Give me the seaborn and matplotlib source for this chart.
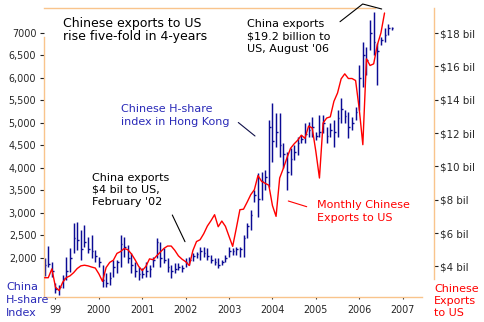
import numpy as np
import pandas as pd
import matplotlib
matplotlib.use("Agg")
import matplotlib.pyplot as plt
import seaborn as sns
from matplotlib.lines import Line2D

sns.set_style("white")
plt.rcParams['font.family'] = ['DejaVu Sans']

# ---------------- data ----------------
exports_start = "1998-10"
exports_bil = [3.32, 3.32, 3.85, 2.75, 2.55, 3.05, 3.33, 3.43, 3.62, 3.87,
               4.03, 4.07, 4.03, 3.96, 3.90, 3.55, 3.10, 3.93, 4.24, 4.37,
               4.78, 4.89, 5.07, 5.00, 4.75, 4.40, 4.00, 3.75, 4.00, 4.45,
               4.40, 4.64, 4.86, 5.08, 5.22, 5.22, 4.96, 4.63, 4.43, 4.28,
               4.05, 4.95, 5.49, 5.60, 5.96, 6.42, 6.74, 7.10, 6.38, 6.72,
               6.40, 5.80, 5.20, 6.28, 7.40, 7.43, 7.85, 8.30, 8.60, 9.45,
               9.10, 8.98, 8.87, 7.65, 7.00, 9.30, 9.87, 10.50, 11.08, 11.35,
               11.57, 11.87, 11.68, 12.42, 12.30, 10.90, 9.30, 12.60, 12.90, 12.97,
               13.90, 14.40, 15.25, 15.55, 15.27, 15.27, 15.15, 13.45, 11.30, 16.45,
               16.05, 16.15, 17.28, 18.00, 19.20]

hshare_start = "1998-10"
hshare_high = [2000, 2270, 1918, 1444, 1400, 1622, 2030, 2222, 2778, 2800,
               2622, 2733, 2474, 2511, 2178, 2030, 1844, 1660, 1696, 1955,
               1955, 2511, 2474, 2289, 2104, 1918, 1808, 1770, 1918, 1844,
               2030, 2444, 2363, 2215, 2000, 1844, 1882, 1882, 1844, 1993,
               2030, 2100, 2140, 2252, 2252, 2215, 2067, 2000, 2000, 1955,
               2067, 2252, 2215, 2252, 2252, 2511, 2778, 3067, 3511, 3889,
               3918, 3955, 5067, 5437, 5222, 5222, 4556, 4363, 4444, 4511,
               4696, 4733, 5000, 5030, 5141, 4807, 5178, 5178, 4918, 4993,
               5067, 5289, 5548, 5289, 5252, 5141, 5363, 6289, 6807, 6696,
               7289, 7474, 6770, 6918, 7111, 7200, 7140]
hshare_low = [1600, 1800, 1585, 1229, 1180, 1333, 1511, 1696, 2111, 2170,
              1955, 2250, 2104, 2000, 1918, 1808, 1363, 1363, 1400, 1585,
              1660, 1808, 2030, 1882, 1660, 1585, 1511, 1548, 1585, 1585,
              1808, 2000, 1808, 1882, 1696, 1555, 1660, 1733, 1696, 1808,
              1844, 1930, 2000, 1955, 2030, 1955, 1882, 1844, 1778, 1844,
              1918, 2030, 2067, 2067, 2030, 2030, 2444, 2622, 3252, 2918,
              3289, 3511, 3585, 4140, 4474, 4252, 4000, 3511, 3844, 4178,
              4289, 4548, 4556, 4696, 4696, 4622, 4696, 4770, 4548, 4696,
              4474, 4696, 4993, 4993, 4659, 4844, 5067, 5289, 5807, 6067,
              6622, 6511, 5844, 6733, 6807, 6955, 7070]
hshare_close = [1850, 1870, 1700, 1300, 1350, 1550, 1700, 2000, 2450, 2400,
                2200, 2350, 2200, 2150, 2050, 1900, 1500, 1450, 1550, 1800,
                1900, 2300, 2250, 2000, 1850, 1700, 1650, 1650, 1700, 1750,
                1950, 2350, 2000, 1950, 1800, 1700, 1750, 1800, 1780, 1900,
                1950, 2050, 2080, 2150, 2100, 2050, 1950, 1900, 1850, 1900,
                2000, 2150, 2150, 2200, 2200, 2450, 2700, 2950, 3400, 3300,
                3700, 3800, 4900, 4600, 4800, 4500, 4300, 3900, 4200, 4350,
                4550, 4650, 4750, 4850, 4900, 4700, 4800, 5000, 4700, 4850,
                4800, 5100, 5300, 5150, 4900, 5000, 5250, 6000, 6500, 6400,
                7000, 6800, 6600, 6850, 6950, 7100, 7100]

year_ticks = [1999, 2000, 2001, 2002, 2003, 2004, 2005, 2006, 2007]
year_labels = ["99", "2000", "2001", "2002", "2003", "2004", "2005", "2006", "2007"]
left_ticks = [2000, 2500, 3000, 3500, 4000, 4500, 5000, 5500, 6000, 6500, 7000]
left_labels = ["2,000", "2,500", "3,000", "3,500", "4,000", "4,500", "5,000",
               "5,500", "6,000", "6,500", "7000"]
right_ticks = [4, 6, 8, 10, 12, 14, 16, 18]
right_labels = ["$4 bil", "$6 bil", "$8 bil", "$10 bil", "$12 bil", "$14 bil",
                "$16 bil", "$18 bil"]


def decimal_years(start, n):
    p = pd.period_range(start, periods=n, freq="M")
    return np.asarray(p.year + (p.month - 1) / 12.0, dtype=float)


t_exp = decimal_years(exports_start, len(exports_bil))
t_hs = decimal_years(hshare_start, len(hshare_high))
exp_df = pd.DataFrame({"t": t_exp, "bil": exports_bil})

# ---------------- styling ----------------
W, H = 484, 322
BLUE = "#0b0b94"
TXT_BLUE = "#2a2ab8"
RED = "#ff0000"
ORANGE = "#f9c48c"

fig = plt.figure(figsize=(W / 100, H / 100), dpi=100)
fig.patch.set_facecolor("white")
ax = fig.add_axes([44 / W, 1 - 297 / H, 390 / W, 289 / H])
ax.set_facecolor("white")
ax.set_xlim(1998.735, 2007.7235)
ax.set_ylim(1133, 7555)

# H-share OHLC-style bars
ax.vlines(t_hs, hshare_low, hshare_high, color=BLUE, lw=1.05, zorder=2)
ax.hlines(hshare_close, t_hs, t_hs + 0.04, color=BLUE, lw=1.0, zorder=2)

ax2 = ax.twinx()
ax2.set_ylim(2.163, 19.5)
sns.lineplot(data=exp_df, x="t", y="bil", ax=ax2, color=RED, lw=1.0, zorder=3)
ax2.set_xlabel("")
ax2.set_ylabel("")
ax.set_xlabel("")
ax.set_ylabel("")

# ticks
ax.set_xticks(year_ticks)
ax.set_xticklabels(year_labels)
ax.set_yticks(left_ticks)
ax.set_yticklabels(left_labels)
ax2.set_yticks(right_ticks)
ax2.set_yticklabels(right_labels)
ax.tick_params(axis="x", bottom=True, direction="out", length=1.5, width=0.8,
               color="#333333", pad=4.3, labelsize=6.9)
ax.tick_params(axis="y", left=True, direction="out", length=2.9, width=0.8,
               color="#222222", pad=2.6, labelsize=6.9)
ax2.tick_params(axis="y", right=True, direction="out", length=2.6, width=0.8,
                color="#222222", pad=2.0, labelsize=7.4)

# spines
for s in ax.spines.values():
    s.set_color(ORANGE)
    s.set_linewidth(1.0)
ax.spines["right"].set_visible(False)
ax.spines["left"].set_bounds(1133, 6920)
ax.spines["bottom"].set_bounds(1998.735, 2007.445)
ax.spines["top"].set_bounds(1998.735, 2006.36)
for k in ["left", "top", "bottom"]:
    ax2.spines[k].set_visible(False)
ax2.spines["right"].set_color(ORANGE)
ax2.spines["right"].set_linewidth(1.0)
ax2.spines["right"].set_bounds(3.24, 19.5)


# ---------------- annotations ----------------
def ftext(x, y, s, size=8, color="black"):
    fig.text(x / W, 1 - y / H, s, ha="left", va="baseline", fontsize=size, color=color)


def fline(xs, ys, color="black", lw=0.8):
    fig.add_artist(Line2D([x / W for x in xs], [1 - y / H for y in ys],
                          transform=fig.transFigure, color=color, lw=lw))


ftext(63, 27.3, "Chinese exports to US", size=9)
ftext(63, 40.3, "rise five-fold in 4-years", size=9)

ftext(246.7, 27.3, "China exports")
ftext(246.7, 39.7, "$19.2 billion to")
ftext(246.7, 52.5, "US, August '06")

ftext(121, 111.7, "Chinese H-share", color=TXT_BLUE)
ftext(121, 125, "index in Hong Kong", color=TXT_BLUE)

ftext(92.3, 180.7, "China exports")
ftext(92.3, 192.7, "$4 bil to US,")
ftext(92.3, 205, "February '02")

ftext(316.7, 208.3, "Monthly Chinese", color=RED)
ftext(316.7, 221, "Exports to US", color=RED)

ftext(6, 290, "China", color=TXT_BLUE)
ftext(6, 302.7, "H-share", color=TXT_BLUE)
ftext(6, 315.5, "Index", color=TXT_BLUE)

ftext(434.3, 291.7, "Chinese", color=RED)
ftext(434.3, 303.8, "Exports", color=RED)
ftext(434.3, 316.3, "to US", color=RED)

fline([172.3, 185], [215, 241.7])
fline([238.3, 255], [122.5, 136], color="#10104a")
fline([288.3, 306.7], [201, 206.7], color=RED)
fline([340, 362.7, 381.7], [21.7, 4, 9])

fig.savefig("out.png", dpi=100, facecolor="white")
